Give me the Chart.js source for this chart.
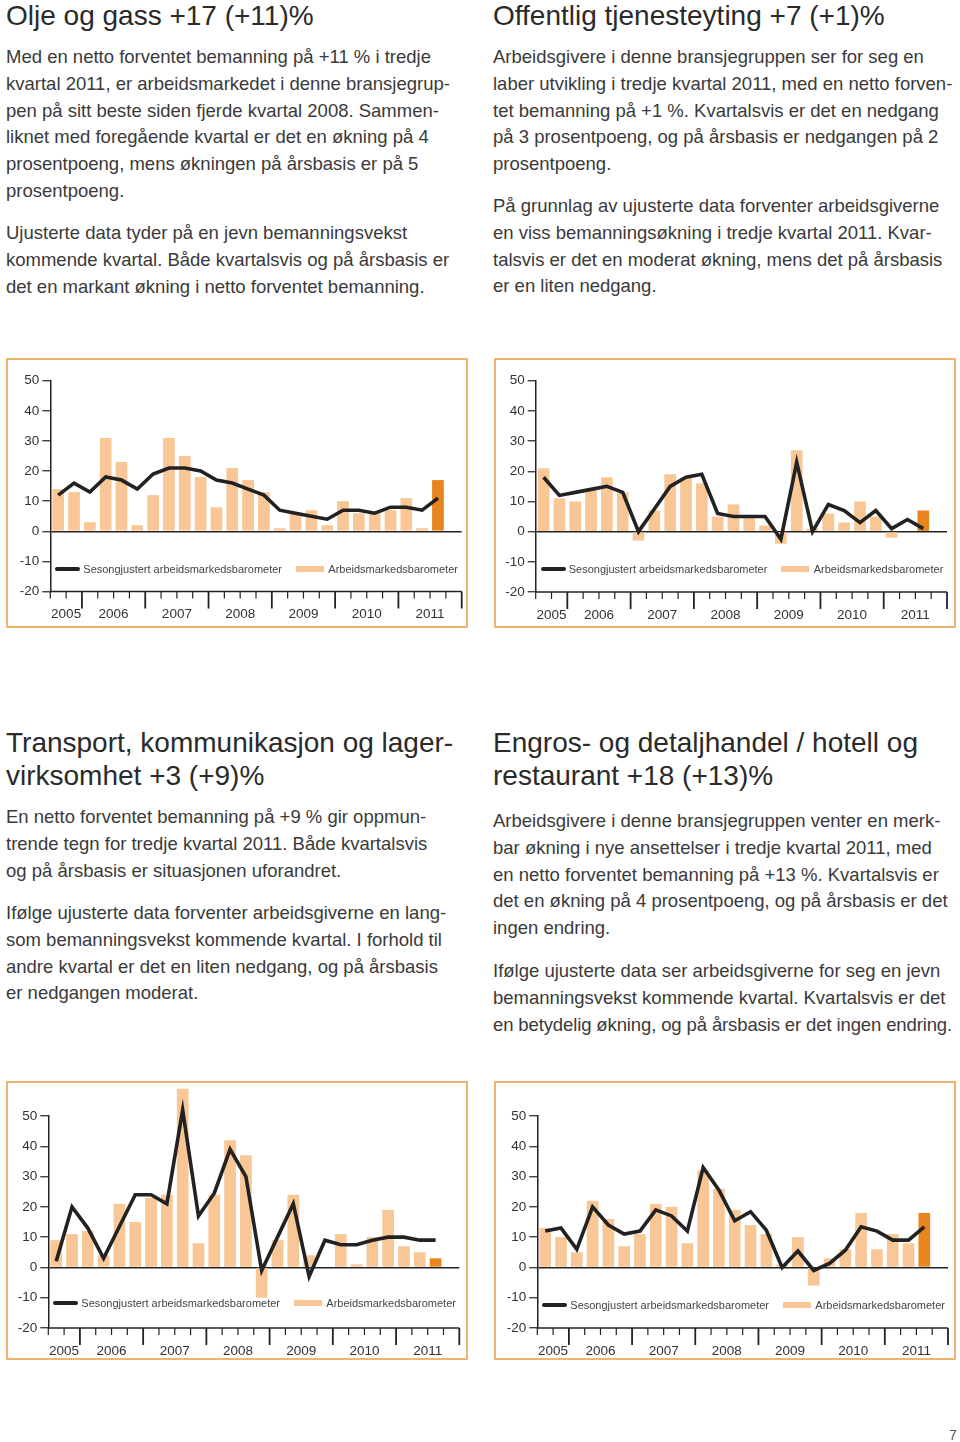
<!DOCTYPE html>
<html>
<head>
<meta charset="utf-8">
<script src="https://cdn.jsdelivr.net/npm/chart.js@4.4.1/dist/chart.umd.min.js"></script>
<style>
  html, body { margin: 0; padding: 0; background: #fff; }
  #page { position: relative; width: 960px; height: 1442px; overflow: hidden; font-family: "Liberation Sans", Arial, sans-serif; color: #2b2b2b; }
  .title { position: absolute; font-size: 28px; line-height: 33.3px; white-space: nowrap; color: #2a2a2a; }
  .p { position: absolute; font-size: 18.5px; line-height: 26.75px; white-space: nowrap; color: #3a3a3a; }
  .box { position: absolute; box-sizing: border-box; border: 2px solid #efb46f; pointer-events: none; }
  canvas { position: absolute; }
  .lg { position: absolute; font-size: 11px; color: #444; white-space: nowrap; line-height: 14px; }
  .sw { position: absolute; }
  #pn { position: absolute; left: 949px; top: 1427px; font-size: 14px; color: #555; }
</style>
</head>
<body>
<div id="page">
  <div class="title" style="left:6px; top:-1px;">Olje og gass +17 (+11)%</div>
  <div class="p" style="left:6px; top:44px;">Med en netto forventet bemanning på +11 % i tredje<br>kvartal 2011, er arbeidsmarkedet i denne bransjegrup-<br>pen på sitt beste siden fjerde kvartal 2008. Sammen-<br>liknet med foregående kvartal er det en økning på 4<br>prosentpoeng, mens økningen på årsbasis er på 5<br>prosentpoeng.</div>
  <div class="p" style="left:6px; top:220px;">Ujusterte data tyder på en jevn bemanningsvekst<br>kommende kvartal. Både kvartalsvis og på årsbasis er<br>det en markant økning i netto forventet bemanning.</div>

  <div class="title" style="left:493px; top:-1px;">Offentlig tjenesteyting +7 (+1)%</div>
  <div class="p" style="left:493px; top:44px;">Arbeidsgivere i denne bransjegruppen ser for seg en<br>laber utvikling i tredje kvartal 2011, med en netto forven-<br>tet bemanning på +1 %. Kvartalsvis er det en nedgang<br>på 3 prosentpoeng, og på årsbasis er nedgangen på 2<br>prosentpoeng.</div>
  <div class="p" style="left:493px; top:193px;">På grunnlag av ujusterte data forventer arbeidsgiverne<br>en viss bemanningsøkning i tredje kvartal 2011. Kvar-<br>talsvis er det en moderat økning, mens det på årsbasis<br>er en liten nedgang.</div>

  <div class="title" style="left:6px; top:726px;">Transport, kommunikasjon og lager-<br>virksomhet +3 (+9)%</div>
  <div class="p" style="left:6px; top:804px;">En netto forventet bemanning på +9 % gir oppmun-<br>trende tegn for tredje kvartal 2011. Både kvartalsvis<br>og på årsbasis er situasjonen uforandret.</div>
  <div class="p" style="left:6px; top:900px;">Ifølge ujusterte data forventer arbeidsgiverne en lang-<br>som bemanningsvekst kommende kvartal. I forhold til<br>andre kvartal er det en liten nedgang, og på årsbasis<br>er nedgangen moderat.</div>

  <div class="title" style="left:493px; top:726px;">Engros- og detaljhandel / hotell og<br>restaurant +18 (+13)%</div>
  <div class="p" style="left:493px; top:808px;">Arbeidsgivere i denne bransjegruppen venter en merk-<br>bar økning i nye ansettelser i tredje kvartal 2011, med<br>en netto forventet bemanning på +13 %. Kvartalsvis er<br>det en økning på 4 prosentpoeng, og på årsbasis er det<br>ingen endring.</div>
  <div class="p" style="left:493px; top:958px;">Ifølge ujusterte data ser arbeidsgiverne for seg en jevn<br>bemanningsvekst kommende kvartal. Kvartalsvis er det<br><span style="letter-spacing:-0.12px">en betydelig økning, og på årsbasis er det ingen endring.</span></div>

  <div id="pn">7</div>
</div>
<script>
// quarters on the x axis, 2005 K3 .. 2011 K4 (last slot empty)
const quarters = [
  '2005 K3', '2005 K4',
  '2006 K1', '2006 K2', '2006 K3', '2006 K4',
  '2007 K1', '2007 K2', '2007 K3', '2007 K4',
  '2008 K1', '2008 K2', '2008 K3', '2008 K4',
  '2009 K1', '2009 K2', '2009 K3', '2009 K4',
  '2010 K1', '2010 K2', '2010 K3', '2010 K4',
  '2011 K1', '2011 K2', '2011 K3', '2011 K4'
];
const yTicks = [-20, -10, 0, 10, 20, 30, 40, 50];
const legendLabels = ['Sesongjustert arbeidsmarkedsbarometer', 'Arbeidsmarkedsbarometer'];

// Olje og gass
const oljeBars = [14, 13, 3, 31, 23, 2, 12, 31, 25, 18, 8, 21, 17, 13, 1, 6, 7, 2, 10, 6, 6, 7, 11, 1, 17];
const oljeLine = [12, 16, 13, 18, 17, 14, 19, 21, 21, 20, 17, 16, 14, 12, 7, 6, 5, 4, 7, 7, 6, 8, 8, 7, 11];
// Offentlig tjenesteyting
const offBars = [21, 11, 10, 14, 18, 13, -3, 7, 19, 18, 16, 5, 9, 5, 2, -4, 27, 1, 6, 3, 10, 5, -2, 0, 7];
const offLine = [18, 12, 13, 14, 15, 13, 0, 7.5, 15, 18, 19, 6, 5, 5, 5, -2.5, 23, 0, 9, 7, 3, 7, 1, 4, 1];
// Transport, kommunikasjon og lagervirksomhet
const transBars = [9, 11, 12, 4, 21, 15, 23, 24, 59, 8, 24, 42, 37, -10, 9, 24, 4, 0, 11, 1, 10, 19, 7, 5, 3];
const transLine = [2, 20, 13, 3, 13.5, 24, 24, 21, 52, 17, 24.5, 39, 30, -1, 10, 21, -3, 9, 7.5, 7.5, 9, 10, 10, 9, 9];
// Engros- og detaljhandel / hotell og restaurant
const engrosBars = [13, 10, 5, 22, 16, 7, 11, 21, 20, 8, 32, 26, 19, 14, 11, 1, 10, -6, 3, 6, 18, 6, 11, 8, 18];
const engrosLine = [12, 13, 6, 20, 14, 11, 12, 19, 17, 12, 33, 25.5, 15.4, 18.4, 12.3, 0, 5.4, -1, 1.3, 5.7, 13.4, 12, 9, 9, 13.4];

const FONT = '"Liberation Sans", Arial, sans-serif';
const BAR = '#f9c796';
const BAR_LAST = '#e8851f';
const INK = '#222';

// box = outer frame [x, y, w, h]; area = plot area in page px [left, top(50), right, bottom(-20)]
const charts = [
  {box: [6, 358, 462, 270],   area: [50.3, 380.7, 461.7, 591.5], bars: oljeBars,   line: oljeLine,   legendY: 569},
  {box: [494, 358, 462, 270], area: [535.7, 380.7, 947, 592],   bars: offBars,    line: offLine,    legendY: 569},
  {box: [6, 1081, 462, 279],  area: [48.3, 1116, 459.3, 1328],  bars: transBars,  line: transLine,  legendY: 1303},
  {box: [494, 1081, 462, 279],area: [537.3, 1116, 948, 1328],   bars: engrosBars, line: engrosLine, legendY: 1304.5}
];

const Y_W = 40;

// bottom axis with quarter ticks and year labels
const xAxisPlugin = {
  id: 'xAxisPlugin',
  afterDraw(chart) {
    const ctx = chart.ctx;
    const xs = chart.scales.x;
    const area = chart.chartArea;
    const labels = chart.data.labels;
    const n = labels.length;
    const slot = xs.getPixelForValue(1) - xs.getPixelForValue(0);
    const x0 = xs.getPixelForValue(0) - slot / 2;
    const yb = area.bottom;
    ctx.save();
    ctx.strokeStyle = INK;
    ctx.lineWidth = 1.5;
    ctx.beginPath();
    ctx.moveTo(area.left, yb);
    ctx.lineTo(x0 + n * slot, yb);
    ctx.stroke();
    let start = 0;
    ctx.fillStyle = '#333';
    ctx.font = '13.5px ' + FONT;
    ctx.textAlign = 'center';
    ctx.textBaseline = 'middle';
    for (let k = 0; k <= n; k++) {
      const major = k === n || (k > 0 && labels[k].slice(0, 4) !== labels[k - 1].slice(0, 4));
      const x = x0 + k * slot;
      ctx.lineWidth = major ? 1.8 : 1.2;
      ctx.beginPath();
      ctx.moveTo(x, yb);
      ctx.lineTo(x, yb + (major ? 17 : 7));
      ctx.stroke();
      if (major) {
        const cx = x0 + (start + k) / 2 * slot;
        ctx.fillText(labels[k - 1].slice(0, 4), cx, yb + 23);
        start = k;
      }
    }
    ctx.restore();
  }
};

const page = document.getElementById('page');

charts.forEach((c, i) => {
  const [bx, by, bw, bh] = c.box;
  const [al, at, ar, ab] = c.area;
  const cv = document.createElement('canvas');
  cv.width = bw; cv.height = bh;
  cv.style.left = bx + 'px'; cv.style.top = by + 'px';
  page.appendChild(cv);
  const frame = document.createElement('div');
  frame.className = 'box';
  frame.style.cssText = `left:${bx}px;top:${by}px;width:${bw}px;height:${bh}px;`;
  page.appendChild(frame);

  const lineData = c.line.concat([null]);
  const barData = c.bars.concat([null]);
  const colors = barData.map((v, k) => k === c.bars.length - 1 ? BAR_LAST : BAR);

  new Chart(cv.getContext('2d'), {
    data: {
      labels: quarters,
      datasets: [
        {type: 'line', label: legendLabels[0], data: lineData, borderColor: INK, borderWidth: 3.6,
         pointRadius: 0, tension: 0, clip: false},
        {type: 'bar', label: legendLabels[1], data: barData, backgroundColor: colors,
         barPercentage: 0.74, categoryPercentage: 1, clip: false}
      ]
    },
    options: {
      responsive: false,
      animation: false,
      events: [],
      layout: {padding: {left: al - bx - Y_W, top: at - by, right: bx + bw - ar, bottom: by + bh - ab}},
      plugins: {legend: {display: false}, tooltip: {enabled: false}},
      scales: {
        x: {display: false, offset: true},
        y: {
          min: yTicks[0], max: yTicks[yTicks.length - 1],
          afterFit(s) { s.width = Y_W; },
          afterBuildTicks(s) { s.ticks = yTicks.map(v => ({value: v})); },
          border: {display: true, color: INK, width: 1.5},
          grid: {
            drawOnChartArea: true,
            color: ctx => ctx.tick && ctx.tick.value === 0 ? INK : 'rgba(0,0,0,0)',
            lineWidth: 1.5,
            tickColor: INK, tickWidth: 1.2, tickLength: 8
          },
          ticks: {color: '#333', font: {family: FONT, size: 13.5}, padding: 3}
        }
      }
    },
    plugins: [xAxisPlugin]
  });

  // legend
  const ly = c.legendY;
  const sw1 = document.createElement('div');
  sw1.className = 'sw';
  sw1.style.cssText = `left:${al + 5}px;top:${ly - 2}px;width:25px;height:4px;background:${INK};border-radius:2px;`;
  const t1 = document.createElement('div');
  t1.className = 'lg';
  t1.style.cssText = `left:${al + 33}px;top:${ly - 7}px;`;
  t1.textContent = legendLabels[0];
  const sw2 = document.createElement('div');
  sw2.className = 'sw';
  sw2.style.cssText = `left:${al + 245.5}px;top:${ly - 3}px;width:28px;height:6px;background:${BAR};`;
  const t2 = document.createElement('div');
  t2.className = 'lg';
  t2.style.cssText = `left:${al + 278}px;top:${ly - 7}px;`;
  t2.textContent = legendLabels[1];
  [sw1, t1, sw2, t2].forEach(e => page.appendChild(e));
});
</script>
</body>
</html>
